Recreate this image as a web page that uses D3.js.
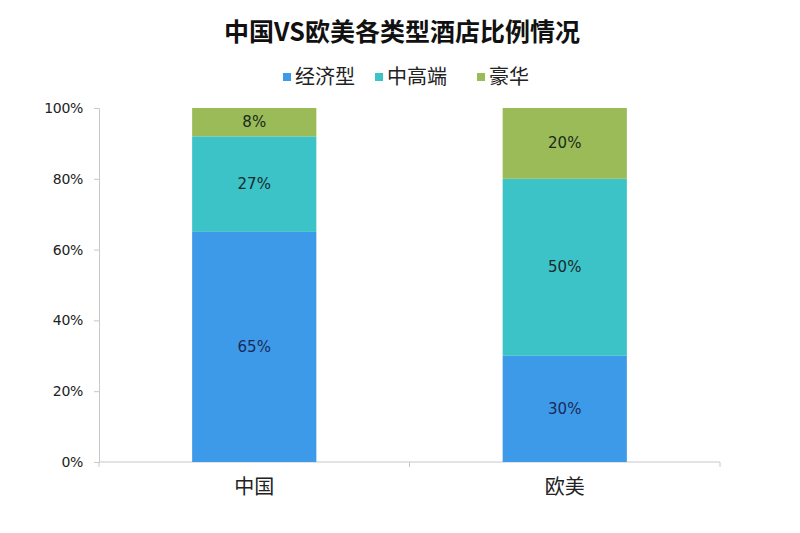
<!DOCTYPE html>
<html><head><meta charset="utf-8">
<script src="https://cdn.jsdelivr.net/npm/d3@7"></script>
<style>body{margin:0;background:#fff}svg{display:block}</style>
</head><body>
<svg id="c" width="800" height="533"></svg>
<script>
const categories = ["中国", "欧美"];
const seriesNames = ["经济型", "中高端", "豪华"];
const economy = [65, 30];
const midHigh = [27, 50];
const luxury = [8, 20];
const yTicks = [0, 20, 40, 60, 80, 100];
const colors = ["#3d9ae8", "#3cc3c8", "#9bbb59"];
const labelColors = ["#1a2a5a", "#1a2a2a", "#1a2a1a"];

const rows = categories.map((c, i) => ({cat: c, "经济型": economy[i], "中高端": midHigh[i], "豪华": luxury[i]}));
const stacked = d3.stack().keys(seriesNames)(rows);

const svg = d3.select("#c");
const m = {l: 99, r: 80, t: 108, b: 71};
const W = 800, H = 533;
const x = d3.scaleBand().domain(categories).range([m.l, W - m.r]).paddingInner(0.6).paddingOuter(0.3);
const y = d3.scaleLinear().domain([0, 100]).range([H - m.b, m.t]);

svg.append("text").attr("x", 402).attr("y", 41).attr("text-anchor", "middle")
  .attr("font-family", "Noto Sans CJK SC").attr("font-weight", "bold").attr("font-size", 25).attr("fill", "#111")
  .text("中国VS欧美各类型酒店比例情况");

// legend
const legendX = [283, 375, 477];
const lg = svg.append("g");
seriesNames.forEach((s, i) => {
  const g = lg.append("g").attr("transform", `translate(${legendX[i]},77)`);
  g.append("rect").attr("x", 0).attr("y", -4).attr("width", 8).attr("height", 8).attr("fill", colors[i]);
  g.append("text").attr("x", 12).attr("y", 7).attr("font-family", "Noto Sans CJK SC").attr("font-size", 20).attr("fill", "#222").text(s);
});

// axes
const yAxis = d3.axisLeft(y).tickValues(yTicks).tickFormat(d => d + "%").tickSize(5).tickPadding(11);
const ya = svg.append("g").attr("transform", `translate(${m.l},0)`).call(yAxis);
ya.select(".domain").attr("stroke", "#c8c8c8");
ya.selectAll(".tick line").attr("stroke", "#c8c8c8");
ya.selectAll("text").attr("font-family", "DejaVu Sans").attr("font-size", 14).attr("fill", "#222").attr("letter-spacing", "-0.3");

const xAxis = d3.axisBottom(x).tickSize(0).tickPadding(18);
const xa = svg.append("g").attr("transform", `translate(0,${H - m.b})`).call(xAxis);
const step = x.step();
const divs = [m.l, x(categories[1]) - (x.paddingInner() * step) / 2, W - m.r];
xa.select(".domain").attr("stroke", "#c8c8c8").attr("d", `M${m.l},0H${W - m.r}`);
xa.selectAll("line.div").data(divs).join("line").attr("class", "div")
  .attr("x1", d => d).attr("x2", d => d).attr("y1", 0).attr("y2", 5).attr("stroke", "#c8c8c8");
xa.selectAll(".tick text").attr("font-family", "Noto Sans CJK SC").attr("font-size", 20).attr("fill", "#222");

stacked.forEach((layer, li) => {
  const g = svg.append("g");
  g.selectAll("rect").data(layer).join("rect")
    .attr("x", d => x(d.data.cat)).attr("width", x.bandwidth())
    .attr("y", d => y(d[1])).attr("height", d => y(d[0]) - y(d[1]))
    .attr("fill", colors[li]);
  g.selectAll("text").data(layer).join("text")
    .attr("x", d => x(d.data.cat) + x.bandwidth() / 2)
    .attr("y", d => (y(d[0]) + y(d[1])) / 2 + 5)
    .attr("text-anchor", "middle").attr("font-family", "DejaVu Sans").attr("font-size", 15)
    .attr("fill", labelColors[li])
    .text(d => (d[1] - d[0]) + "%");
});
</script>
</body></html>
